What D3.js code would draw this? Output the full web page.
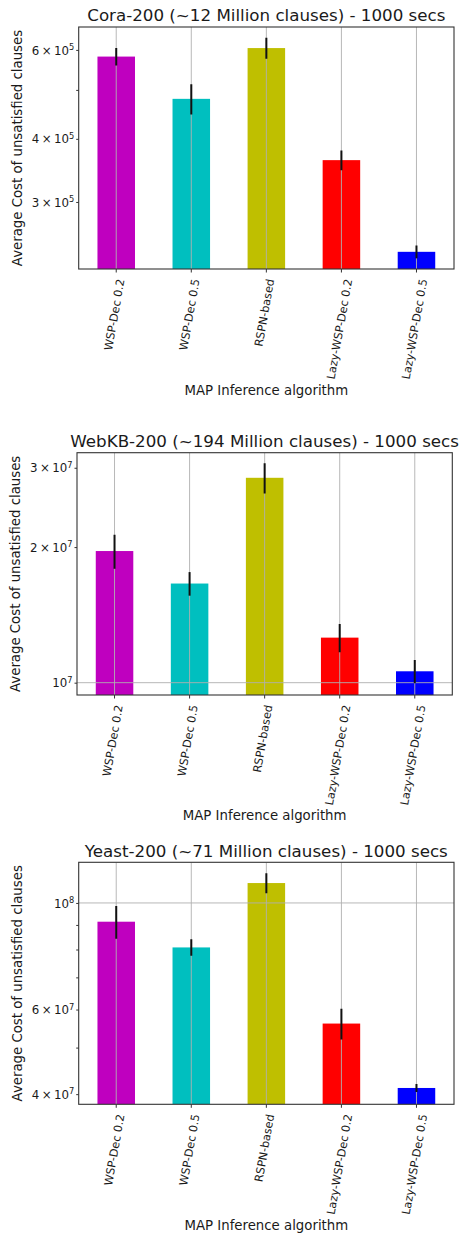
<!DOCTYPE html>
<html>
<head>
<meta charset="utf-8">
<script src="https://cdn.jsdelivr.net/npm/d3@7/dist/d3.min.js"></script>
<style>
  html, body { margin: 0; padding: 0; background: #fff; }
  svg { display: block; }
  text { font-family: "DejaVu Sans", sans-serif; fill: #1a1a1a; }
</style>
</head>
<body>
<svg id="chart" width="468" height="1234"></svg>
<script>
// Algorithms compared (x-axis categories) and their bar colours
const categories = ["WSP-Dec 0.2", "WSP-Dec 0.5", "RSPN-based", "Lazy-WSP-Dec 0.2", "Lazy-WSP-Dec 0.5"];
const barColors = ["#bf00bf", "#00bfbf", "#bfbf00", "#ff0000", "#0000ff"];

// Cora-200
const coraTitle = "Cora-200 (~12 Million clauses) - 1000 secs";
const coraMeans = [5.82e5, 4.80e5, 6.05e5, 3.63e5, 2.39e5];
const coraErrors = [0.23e5, 0.33e5, 0.29e5, 0.165e5, 0.07e5];
const coraLimits = [2.21e5, 6.66e5];
const coraLabeledTicks = [3e5, 4e5, 6e5];
const coraMinorTicks = [5e5];
const coraGridTicks = [];

// WebKB-200
const webkbTitle = "WebKB-200 (~194 Million clauses) - 1000 secs";
const webkbMeans = [1.96e7, 1.66e7, 2.85e7, 1.259e7, 1.06e7];
const webkbErrors = [0.17e7, 0.10e7, 0.22e7, 0.09e7, 0.063e7];
const webkbLimits = [9.39e6, 3.24e7];
const webkbLabeledTicks = [1e7, 2e7, 3e7];
const webkbMinorTicks = [];
const webkbGridTicks = [1e7];

// Yeast-200
const yeastTitle = "Yeast-200 (~71 Million clauses) - 1000 secs";
const yeastMeans = [9.14e7, 8.08e7, 1.10e8, 5.61e7, 4.12e7];
const yeastErrors = [0.72e7, 0.32e7, 0.053e8, 0.41e7, 0.08e7];
const yeastLimits = [3.81e7, 1.215e8];
const yeastLabeledTicks = [4e7, 6e7, 1e8];
const yeastMinorTicks = [5e7, 7e7, 8e7, 9e7];
const yeastGridTicks = [1e8];

const xLabel = "MAP Inference algorithm";
const yLabel = "Average Cost of unsatisfied clauses";

const panels = [
  { title: coraTitle, means: coraMeans, errors: coraErrors, limits: coraLimits,
    labeled: coraLabeledTicks, minor: coraMinorTicks, grid: coraGridTicks,
    box: { left: 78.7, right: 454, top: 27, bottom: 269 }, titleY: 21, yLabelX: 17.5, xLabelY: 395 },
  { title: webkbTitle, means: webkbMeans, errors: webkbErrors, limits: webkbLimits,
    labeled: webkbLabeledTicks, minor: webkbMinorTicks, grid: webkbGridTicks,
    box: { left: 77, right: 452.3, top: 452.7, bottom: 695 }, titleY: 446.5, yLabelX: 15.7, xLabelY: 820 },
  { title: yeastTitle, means: yeastMeans, errors: yeastErrors, limits: yeastLimits,
    labeled: yeastLabeledTicks, minor: yeastMinorTicks, grid: yeastGridTicks,
    box: { left: 78.7, right: 454, top: 862.3, bottom: 1104.3 }, titleY: 857, yLabelX: 17.5, xLabelY: 1230 }
];

const svg = d3.select("#chart");
const yTickFont = 11.8;
const xTickFont = 11.3;
const angle = 80;

function drawPanel(p) {
  const b = p.box;
  const g = svg.append("g");

  const x = d3.scaleBand().domain(categories).range([b.left, b.right]).paddingInner(0.5).paddingOuter(0.25);
  const y = d3.scaleLog().domain(p.limits).range([b.bottom, b.top]);
  const cx = d => x(d) + x.bandwidth() / 2;

  const data = categories.map((c, i) => ({ c, v: p.means[i], e: p.errors[i], color: barColors[i] }));

  // clip everything to the axes box
  const clipId = "clip" + Math.round(b.top);
  g.append("clipPath").attr("id", clipId).append("rect")
    .attr("x", b.left).attr("y", b.top).attr("width", b.right - b.left).attr("height", b.bottom - b.top);
  const plot = g.append("g").attr("clip-path", `url(#${clipId})`);

  // bars
  plot.selectAll("rect.bar").data(data).enter().append("rect")
    .attr("class", "bar")
    .attr("x", d => x(d.c))
    .attr("width", x.bandwidth())
    .attr("y", d => y(d.v))
    .attr("height", d => b.bottom - y(d.v))
    .attr("fill", d => d.color);

  // grid lines on top of bars
  plot.selectAll("line.vgrid").data(categories).enter().append("line")
    .attr("x1", d => cx(d)).attr("x2", d => cx(d))
    .attr("y1", b.top).attr("y2", b.bottom)
    .attr("stroke", "#b0b0b0").attr("stroke-width", 0.9);
  plot.selectAll("line.hgrid").data(p.grid).enter().append("line")
    .attr("x1", b.left).attr("x2", b.right)
    .attr("y1", d => y(d)).attr("y2", d => y(d))
    .attr("stroke", "#b0b0b0").attr("stroke-width", 0.9);

  // error bars
  plot.selectAll("line.err").data(data).enter().append("line")
    .attr("x1", d => cx(d.c)).attr("x2", d => cx(d.c))
    .attr("y1", d => y(d.v + d.e)).attr("y2", d => y(d.v - d.e))
    .attr("stroke", "#111").attr("stroke-width", 2);

  // y axis: labelled ticks in scientific notation
  const yAxis = g.append("g").attr("transform", `translate(${b.left},0)`)
    .call(d3.axisLeft(y).tickValues(p.labeled).tickSize(2.5).tickPadding(2).tickFormat(""));
  yAxis.select(".domain").remove();
  yAxis.selectAll(".tick line").attr("stroke", "#333");
  yAxis.selectAll(".tick text").each(function (v) {
    const t = d3.select(this).attr("font-size", yTickFont).attr("dy", "0.35em").text("");
    const exp = Math.floor(Math.log10(v) + 1e-9);
    const mant = Math.round(v / Math.pow(10, exp));
    if (mant !== 1) {
      t.append("tspan").text(mant);
      t.append("tspan").attr("dx", 2.4).text("\u00d7");
      t.append("tspan").attr("dx", 2.4).text("10");
    } else {
      t.append("tspan").text("10");
    }
    t.append("tspan").attr("dy", "-0.55em").attr("font-size", yTickFont * 0.7).text(exp);
  });

  // y axis: unlabelled minor ticks
  const yMinor = g.append("g").attr("transform", `translate(${b.left},0)`)
    .call(d3.axisLeft(y).tickValues(p.minor).tickSize(2.5).tickFormat(""));
  yMinor.select(".domain").remove();
  yMinor.selectAll(".tick line").attr("stroke", "#333");

  // x axis
  const xAxis = g.append("g").attr("transform", `translate(0,${b.bottom})`)
    .call(d3.axisBottom(x).tickSize(3.5).tickFormat(""));
  xAxis.select(".domain").remove();
  xAxis.selectAll(".tick line").attr("stroke", "#333");

  // rotated category labels, their rotated bounding box centred under each tick
  const rad = angle * Math.PI / 180;
  categories.forEach(c => {
    const t = g.append("text").attr("font-size", xTickFont)
      .attr("text-anchor", "middle").attr("dominant-baseline", "central").text(c);
    const L = t.node().getComputedTextLength();
    const h = xTickFont * 1.1;
    const H = L * Math.sin(rad) + h * Math.cos(rad);
    const top = b.bottom + 9;
    t.attr("transform", `translate(${cx(c) - 1.5},${top + H / 2}) rotate(${-angle})`);
  });

  // axes frame
  g.append("rect")
    .attr("x", b.left).attr("y", b.top)
    .attr("width", b.right - b.left).attr("height", b.bottom - b.top)
    .attr("fill", "none").attr("stroke", "#333").attr("stroke-width", 1.1);

  // title
  g.append("text").attr("x", (b.left + b.right) / 2).attr("y", p.titleY)
    .attr("text-anchor", "middle").attr("font-size", 16.7).text(p.title);

  // axis labels
  g.append("text").attr("x", (b.left + b.right) / 2).attr("y", p.xLabelY)
    .attr("text-anchor", "middle").attr("font-size", 13.3).text(xLabel);
  g.append("text")
    .attr("transform", `translate(${p.yLabelX},${(b.top + b.bottom) / 2}) rotate(-90)`)
    .attr("text-anchor", "middle").attr("dominant-baseline", "central")
    .attr("font-size", 13.3).text(yLabel);
}

panels.forEach(drawPanel);
</script>
</body>
</html>
